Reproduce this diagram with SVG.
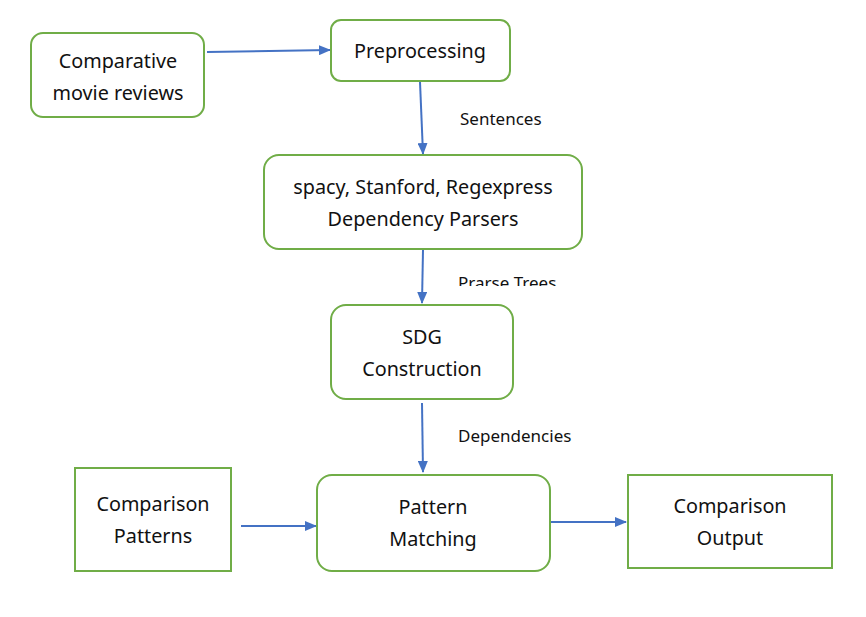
<svg xmlns="http://www.w3.org/2000/svg" width="866" height="617" viewBox="0 0 866 617">
<style>
.box{fill:#fff;stroke:#70AD47;stroke-width:2}
.t{font-family:"Noto Sans","Liberation Sans",sans-serif;font-size:19.8px;fill:#111;text-anchor:middle;dominant-baseline:central}
.l{font-family:"Noto Sans","Liberation Sans",sans-serif;font-size:17px;fill:#111;dominant-baseline:central}
.c{stroke:#4472C4;stroke-width:2;fill:none;marker-end:url(#ah)}
</style>
<defs>
<marker id="ah" markerWidth="12" markerHeight="10" refX="11" refY="5" orient="auto" markerUnits="userSpaceOnUse">
<path d="M0,0 L12,5 L0,10 z" fill="#4472C4"/>
</marker>
<clipPath id="clipPT"><rect x="440" y="265" width="140" height="21"/></clipPath>
</defs>
<rect width="866" height="617" fill="#fff"/>
<g id="connectors">
<path class="c" d="M207,52 L330,50"/>
<path class="c" d="M420,82 L423,154"/>
<path class="c" d="M423,250 L422,303"/>
<path class="c" d="M422,403 L423,472"/>
<path class="c" d="M241,526 L316,526"/>
<path class="c" d="M551,522 L626,522"/>
<text class="l" x="460" y="118">Sentences</text>
<text class="l" x="458" y="282" clip-path="url(#clipPT)">Prarse Trees</text>
<text class="l" x="458" y="435">Dependencies</text>
</g>
<g id="reviews">
<rect class="box" x="31" y="33" width="173" height="84" rx="12"/>
<text class="t" x="118" y="60">Comparative</text>
<text class="t" x="118" y="92">movie reviews</text>
</g>
<g id="preprocessing">
<rect class="box" x="331" y="20" width="179" height="61" rx="10"/>
<text class="t" x="420" y="50">Preprocessing</text>
</g>
<g id="parsers">
<rect class="box" x="264" y="155" width="318" height="94" rx="15"/>
<text class="t" x="423" y="186">spacy, Stanford, Regexpress</text>
<text class="t" x="423" y="218">Dependency Parsers</text>
</g>
<g id="sdg">
<rect class="box" x="331" y="305" width="182" height="94" rx="15"/>
<text class="t" x="422" y="336">SDG</text>
<text class="t" x="422" y="368">Construction</text>
</g>
<g id="patterns">
<rect class="box" x="75" y="468" width="156" height="103"/>
<text class="t" x="153" y="503">Comparison</text>
<text class="t" x="153" y="535">Patterns</text>
</g>
<g id="matching">
<rect class="box" x="317" y="475" width="233" height="96" rx="15"/>
<text class="t" x="433" y="506">Pattern</text>
<text class="t" x="433" y="538">Matching</text>
</g>
<g id="output">
<rect class="box" x="628" y="475" width="204" height="93"/>
<text class="t" x="730" y="505">Comparison</text>
<text class="t" x="730" y="537">Output</text>
</g>
</svg>
